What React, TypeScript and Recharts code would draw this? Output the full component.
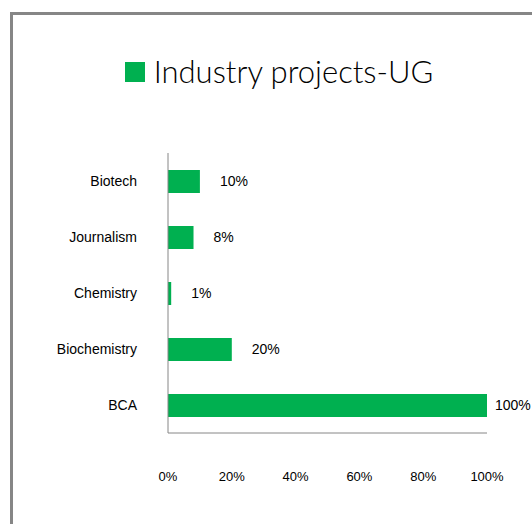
import { BarChart, Bar, XAxis, YAxis, LabelList } from 'recharts';

const categories = ['Biotech', 'Journalism', 'Chemistry', 'Biochemistry', 'BCA'];
const values = [10, 8, 1, 20, 100];
const xTicks = [0, 20, 40, 60, 80, 100];
const seriesName = 'Industry projects-UG';

const GREEN = '#00B050';
const GRAY = '#868686';
const FONT = '"Liberation Sans", Arial, sans-serif';

const data = categories.map((c, i) => ({ name: c, value: values[i] }));

function ValueLabel(props: any) {
  const { x, y, width, height, value } = props;
  // keep the label inside the chart area, like the original does for the long bar
  const lx = Math.min(x + width + 20, 532 - 37);
  return (
    <text x={lx} y={y + height / 2} dy="0.35em" fontSize={14} fill="#000" fontFamily={FONT}>
      {`${value}%`}
    </text>
  );
}

function TitleLegend() {
  return (
    <div
      style={{
        position: 'absolute',
        top: 56,
        left: 0,
        width: 532,
        display: 'flex',
        alignItems: 'center',
        justifyContent: 'center',
        paddingLeft: 26,
        boxSizing: 'border-box',
      }}
    >
      <span style={{ width: 20, height: 20, background: GREEN, display: 'inline-block', marginRight: 9 }} />
      <span style={{ fontFamily: 'Lato, "Open Sans", sans-serif', fontWeight: 300, fontSize: 31, color: '#000', lineHeight: 1 }}>
        {seriesName}
      </span>
    </div>
  );
}

export default function App() {
  return (
    <div style={{ position: 'absolute', left: 0, top: 0, width: 532, height: 524, overflow: 'hidden', background: '#fff' }}>
      <div
        style={{
          position: 'absolute',
          left: 10,
          top: 12,
          width: 600,
          height: 600,
          borderTop: `3px solid ${GRAY}`,
          borderLeft: `3px solid ${GRAY}`,
        }}
      />
      <TitleLegend />
      <BarChart
        width={532}
        height={524}
        data={data}
        layout="vertical"
        margin={{ top: 153, right: 45, bottom: 41, left: 8 }}
        style={{ position: 'absolute', left: 0, top: 0 }}
      >
        <XAxis
          type="number"
          domain={[0, 100]}
          ticks={xTicks}
          tickFormatter={(v) => `${v}%`}
          axisLine={{ stroke: GRAY, strokeWidth: 1 }}
          tickLine={false}
          tickSize={6}
          tickMargin={33}
          height={50}
          tick={{ fontSize: 13, fill: '#000', fontFamily: FONT }}
          interval={0}
        />
        <YAxis
          type="category"
          dataKey="name"
          width={160}
          axisLine={{ stroke: GRAY, strokeWidth: 1 }}
          tickLine={false}
          tickSize={6}
          tickMargin={25}
          tick={{ fontSize: 14, fill: '#000', fontFamily: FONT }}
          interval={0}
        />
        <Bar dataKey="value" name={seriesName} fill={GREEN} barSize={23} isAnimationActive={false}>
          <LabelList dataKey="value" content={ValueLabel} />
        </Bar>
      </BarChart>
    </div>
  );
}
